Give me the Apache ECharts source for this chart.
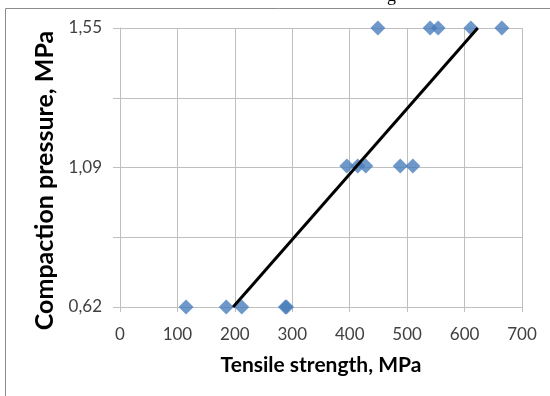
<!DOCTYPE html>
<html><head><meta charset="utf-8">
<script src="https://cdn.jsdelivr.net/npm/echarts@6/dist/echarts.min.js"></script>
<style>html,body{margin:0;padding:0;background:#fff}#c{width:550px;height:396px}</style>
</head><body><div id="c"></div>
<script>
const tensile = [115, 185, 212, 288, 290, 395, 414, 428, 488, 510, 449, 540, 554, 611, 665];
const pressure = [0.62, 0.62, 0.62, 0.62, 0.62, 1.09, 1.09, 1.09, 1.09, 1.09, 1.55, 1.55, 1.55, 1.55, 1.55];
const trendX = [197, 623];
const trendY = [0.62, 1.55];
const yLabelValues = [0.62, 1.085, 1.55];
const yLabelTexts = ['0,62', '1,09', '1,55'];
const yGridValues = [0.62, 0.8525, 1.085, 1.3175, 1.55];

const chart = echarts.init(document.getElementById('c'));
const font = 'Lato, "Open Sans", sans-serif';
chart.setOption({
  animation: false,
  grid: {left: 120, right: 28, top: 28, bottom: 89},
  xAxis: {
    type: 'value', min: 0, max: 700, interval: 100,
    name: 'Tensile strength, MPa', nameLocation: 'middle', nameGap: 48,
    nameTextStyle: {fontFamily: font, fontWeight: 'bold', fontSize: 21, color: '#000'},
    axisLine: {show: true, lineStyle: {color: '#BFBFBF'}},
    axisTick: {show: true, length: 5, lineStyle: {color: '#BFBFBF'}},
    axisLabel: {fontFamily: font, fontSize: 17, color: '#404040', margin: 19},
    splitLine: {show: true, lineStyle: {color: '#BFBFBF'}}
  },
  yAxis: {
    type: 'value', min: 0.62, max: 1.55,
    name: 'Compaction pressure, MPa', nameLocation: 'middle', nameGap: 58,
    nameTextStyle: {fontFamily: font, fontWeight: 'bold', fontSize: 25, color: '#000', padding: [0, 26, 0, 0]},
    axisLine: {show: true, lineStyle: {color: '#BFBFBF'}},
    axisTick: {show: true, length: 7, customValues: yGridValues, lineStyle: {color: '#BFBFBF'}},
    axisLabel: {fontFamily: font, fontSize: 17, color: '#404040', margin: 18,
      customValues: yLabelValues,
      formatter: v => { const i = yLabelValues.findIndex(x => Math.abs(x - v) < 1e-6); return i >= 0 ? yLabelTexts[i] : ''; }},
    splitLine: {show: true, lineStyle: {color: '#BFBFBF'}}
  },
  graphic: [
    {type: 'rect', shape: {x: 5.5, y: 8.5, width: 600, height: 500}, style: {fill: 'none', stroke: '#8C8C8C', lineWidth: 1}, z: -1},
    {type: 'text', left: 387, top: -13, style: {text: 'g', fontFamily: 'Liberation Serif, serif', fontSize: 18, fill: '#000'}}
  ],
  series: [
    {type: 'scatter', data: tensile.map((x, i) => [x, pressure[i]]), symbol: 'diamond', symbolSize: 15,
     itemStyle: {color: '#4A7EBB'}, z: 3},
    {type: 'line', data: trendX.map((x, i) => [x, trendY[i]]), symbol: 'none',
     lineStyle: {color: '#000', width: 3}, z: 4}
  ]
});
</script></body></html>
